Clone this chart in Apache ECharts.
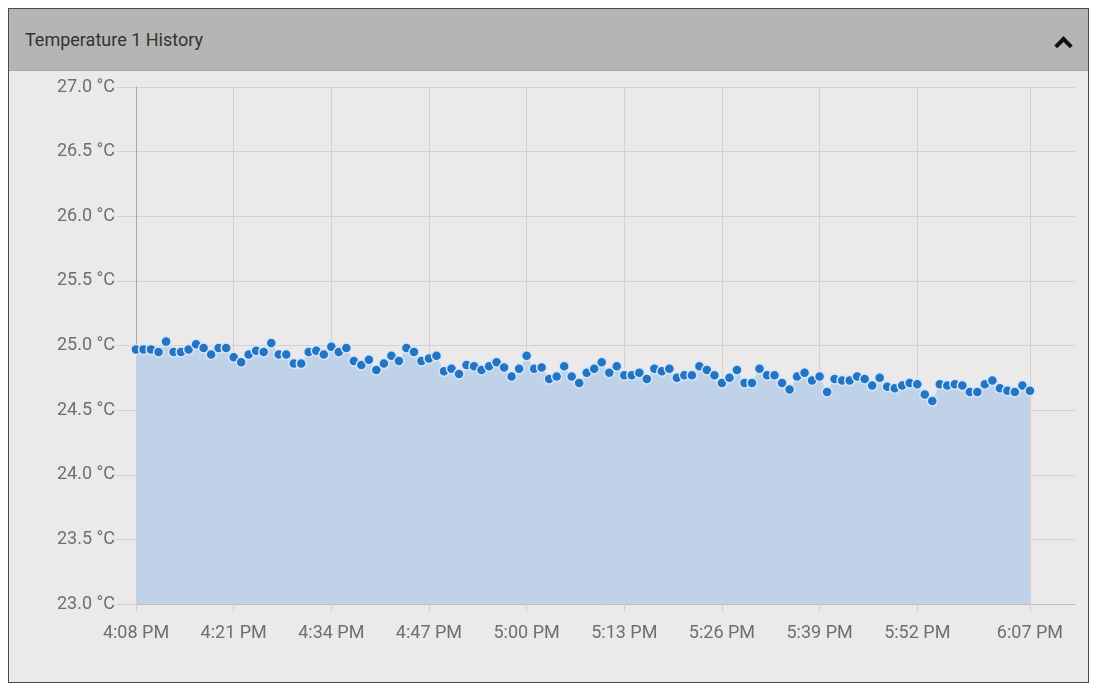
<!DOCTYPE html>
<html>
<head>
<meta charset="utf-8">
<script src="https://cdn.jsdelivr.net/npm/echarts@6/dist/echarts.min.js"></script>
<style>
  body { margin: 0; background: #fff; font-family: Roboto, "Liberation Sans", Arial, sans-serif; }
  .panel { position: absolute; left: 8px; top: 8px; width: 1079px; height: 673px; border: 1px solid #4a4a4a; background: #ebe9ea; }
  .head { height: 61px; background: #b5b5b5; border-bottom: 1px solid #a8a8a8; position: relative; }
  .head span { position: absolute; left: 16px; top: 20px; font-size: 18px; color: #333; }
  .chev { position: absolute; right: 18px; top: 30px; width: 9px; height: 9px; border-left: 4px solid #111; border-top: 4px solid #111; transform: rotate(45deg); }
  #chart { width: 1079px; height: 611px; }
</style>
</head>
<body>
<div class="panel">
  <div class="head"><span>Temperature 1 History</span><div class="chev"></div></div>
  <div id="chart"></div>
</div>
<script>
  // one reading per minute, 4:08 PM .. 6:07 PM
  const startHour = 16
  const startMinute = 8
  const axisMinutes = 126

  const tickLabels = ['4:08 PM', '4:21 PM', '4:34 PM', '4:47 PM', '5:00 PM', '5:13 PM', '5:26 PM', '5:39 PM', '5:52 PM', '6:07 PM']

  const temperature = [
    24.97, 24.97, 24.97, 24.95, 25.03, 24.95, 24.95, 24.97, 25.01, 24.98,
    24.93, 24.98, 24.98, 24.91, 24.87, 24.93, 24.96, 24.95, 25.02, 24.93,
    24.93, 24.86, 24.86, 24.95, 24.96, 24.93, 24.99, 24.95, 24.98, 24.88,
    24.85, 24.89, 24.81, 24.86, 24.92, 24.88, 24.98, 24.95, 24.88, 24.90,
    24.92, 24.80, 24.82, 24.78, 24.85, 24.84, 24.81, 24.84, 24.87, 24.83,
    24.76, 24.82, 24.92, 24.82, 24.83, 24.74, 24.76, 24.84, 24.76, 24.71,
    24.79, 24.82, 24.87, 24.79, 24.84, 24.77, 24.77, 24.79, 24.74, 24.82,
    24.80, 24.82, 24.75, 24.77, 24.77, 24.84, 24.81, 24.77, 24.71, 24.75,
    24.81, 24.71, 24.71, 24.82, 24.77, 24.77, 24.71, 24.66, 24.76, 24.79,
    24.73, 24.76, 24.64, 24.74, 24.73, 24.73, 24.76, 24.74, 24.69, 24.75,
    24.68, 24.67, 24.69, 24.71, 24.70, 24.62, 24.57, 24.70, 24.69, 24.70,
    24.69, 24.64, 24.64, 24.70, 24.73, 24.67, 24.65, 24.64, 24.69, 24.65
  ]

  function minuteLabel(i) {
    const total = startHour * 60 + startMinute + i
    const h = Math.floor(total / 60) % 12 || 12
    const m = total % 60
    return h + ':' + (m < 10 ? '0' + m : m) + ' PM'
  }

  const categories = []
  for (let i = 0; i < axisMinutes; i++) categories.push(minuteLabel(i))

  const isTick = (index, value) => tickLabels.indexOf(value) !== -1 && index < temperature.length

  const chart = echarts.init(document.getElementById('chart'))
  chart.setOption({
    animation: false,
    grid: { left: 127, right: 13, top: 16, bottom: 78 },
    xAxis: {
      type: 'category',
      boundaryGap: false,
      data: categories,
      axisLine: { lineStyle: { color: '#bdbdbd', width: 1 } },
      axisTick: { show: true, interval: isTick, length: 8, lineStyle: { color: '#cfcfcf' } },
      axisLabel: { interval: isTick, color: '#6f6f6f', fontSize: 18, margin: 20, fontFamily: 'Roboto' },
      splitLine: { show: true, interval: isTick, lineStyle: { color: '#d3d1d2' } }
    },
    yAxis: {
      type: 'value',
      min: 23,
      max: 27,
      interval: 0.5,
      axisLine: { show: true, lineStyle: { color: '#a9a9a9' } },
      axisTick: { show: true, length: 20, lineStyle: { color: '#d3d1d2' } },
      axisLabel: {
        color: '#6f6f6f', fontSize: 18, margin: 21, fontFamily: 'Roboto',
        formatter: v => v.toFixed(1) + ' °C'
      },
      splitLine: { lineStyle: { color: '#d3d1d2' } }
    },
    series: [
      {
        type: 'line',
        data: temperature,
        symbol: 'circle',
        symbolSize: 10,
        showAllSymbol: true,
        lineStyle: { width: 0 },
        itemStyle: { color: '#2474c4', borderColor: '#d3e7fc', borderWidth: 1.5 },
        areaStyle: { color: '#bfd2e8', opacity: 1 }
      }
    ]
  })
</script>
</body>
</html>
